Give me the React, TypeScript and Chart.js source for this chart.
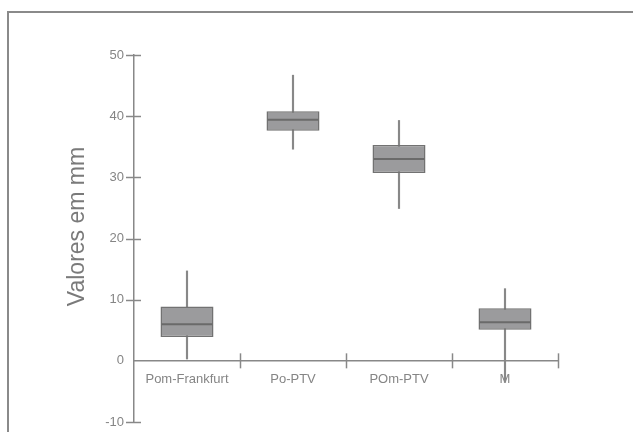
import React, { useEffect, useRef } from "react";
import { Chart, registerables } from "chart.js";

Chart.register(...registerables);

const categories = ["Pom-Frankfurt", "Po-PTV", "POm-PTV", "M"];
const whiskerLow = [0.3, 34.6, 24.9, -3.5];
const quartile1 = [3.9, 37.6, 30.7, 5.1];
const medians = [6.0, 39.4, 33.0, 6.3];
const quartile3 = [8.9, 40.8, 35.3, 8.6];
const whiskerHigh = [14.7, 46.7, 39.3, 11.8];
const yTicks = [-10, 0, 10, 20, 30, 40, 50];
const yTitle = "Valores em mm";

const AXIS = "#888888";
const TEXT = "#858585";
const FONT = "'Liberation Sans', Arial, sans-serif";

const boxPlugin = {
  id: "boxExtras",
  afterDatasetsDraw(chart: any) {
    const { ctx, scales } = chart;
    const x = scales.x;
    const y = scales.y;
    ctx.save();
    // medians
    const meta = chart.getDatasetMeta(1);
    ctx.strokeStyle = "#6a6a6a";
    ctx.lineWidth = 2;
    meta.data.forEach((bar: any, i: number) => {
      const py = y.getPixelForValue(medians[i]);
      ctx.beginPath();
      ctx.moveTo(bar.x - bar.width / 2 + 1, py);
      ctx.lineTo(bar.x + bar.width / 2 - 1, py);
      ctx.stroke();
    });
    // axis ticks crossing the axes
    ctx.strokeStyle = AXIS;
    ctx.lineWidth = 1.5;
    const ax = x.left;
    yTicks.forEach((v) => {
      if (v === 0) return;
      const py = Math.round(y.getPixelForValue(v)) + 0.5;
      ctx.beginPath();
      ctx.moveTo(ax - 8, py);
      ctx.lineTo(ax + 7, py);
      ctx.stroke();
    });
    const y0 = y.getPixelForValue(0);
    for (let i = 1; i <= categories.length; i++) {
      const px = Math.round(x.getPixelForValue(i - 0.5)) + 0.5;
      ctx.beginPath();
      ctx.moveTo(px, y0 - 7.5);
      ctx.lineTo(px, y0 + 7.5);
      ctx.stroke();
    }
    // y axis title
    const cy = (chart.chartArea.top + chart.chartArea.bottom) / 2 - 12;
    ctx.translate(78, cy);
    ctx.rotate(-Math.PI / 2);
    ctx.fillStyle = "#7a7a7a";
    ctx.font = `23px ${FONT}`;
    ctx.textAlign = "center";
    ctx.textBaseline = "middle";
    ctx.fillText(yTitle, 0, 0);
    ctx.restore();
  },
};

export default function App() {
  const ref = useRef<HTMLCanvasElement>(null);
  useEffect(() => {
    if (!ref.current) return;
    const whiskers = categories.map((_, i) => [whiskerLow[i], whiskerHigh[i]]);
    const boxes = categories.map((_, i) => [quartile1[i], quartile3[i]]);
    const chart = new Chart(ref.current, {
      type: "bar",
      data: {
        labels: categories,
        datasets: [
          {
            data: whiskers as any,
            backgroundColor: AXIS,
            borderWidth: 0,
            barThickness: 1.5,
            grouped: false,
            order: 2,
          } as any,
          {
            data: boxes as any,
            backgroundColor: "#9b9b9d",
            borderColor: "#727272",
            borderWidth: 1.5,
            borderSkipped: false,
            barPercentage: 0.5,
            categoryPercentage: 1,
            grouped: false,
            order: 1,
          } as any,
        ],
      },
      options: {
        responsive: false,
        animation: false,
        events: [],
        layout: { padding: { left: 0, right: 75, top: 55, bottom: 10 } },
        plugins: { legend: { display: false }, tooltip: { enabled: false } },
        scales: {
          x: {
            type: "category",
            position: { y: 0 } as any,
            offset: true,
            afterFit: (s: any) => {
              s.paddingTop = 0;
              s.paddingBottom = 0;
              s.paddingLeft = 0;
              s.paddingRight = 0;
            },
            grid: { display: true, drawOnChartArea: false, drawTicks: false, offset: true },
            border: { display: true, color: AXIS, width: 1.5 },
            ticks: {
              color: TEXT,
              padding: 11,
              font: { family: FONT, size: 13 },
              maxRotation: 0,
              autoSkip: false,
            },
          },
          y: {
            min: -10,
            max: 50,
            afterFit: (s: any) => {
              s.width = 134;
              s.paddingTop = 0;
              s.paddingBottom = 0;
            },
            grid: { display: true, drawOnChartArea: false, drawTicks: false },
            border: { display: true, color: AXIS, width: 1.5 },
            ticks: {
              stepSize: 10,
              color: TEXT,
              padding: 10,
              font: { family: FONT, size: 13 },
            },
          },
        },
      },
      plugins: [boxPlugin],
    });
    return () => chart.destroy();
  }, []);
  return (
    <div style={{ position: "absolute", left: 0, top: 0, width: 633, height: 432, overflow: "hidden", background: "#fff" }}>
      <div
        style={{
          position: "absolute",
          left: 7,
          top: 11,
          width: 700,
          height: 500,
          borderLeft: "2px solid #8a8a8a",
          borderTop: "2px solid #8a8a8a",
        }}
      />
      <canvas ref={ref} width={633} height={432} style={{ position: "absolute", left: 0, top: 0 }} />
    </div>
  );
}
